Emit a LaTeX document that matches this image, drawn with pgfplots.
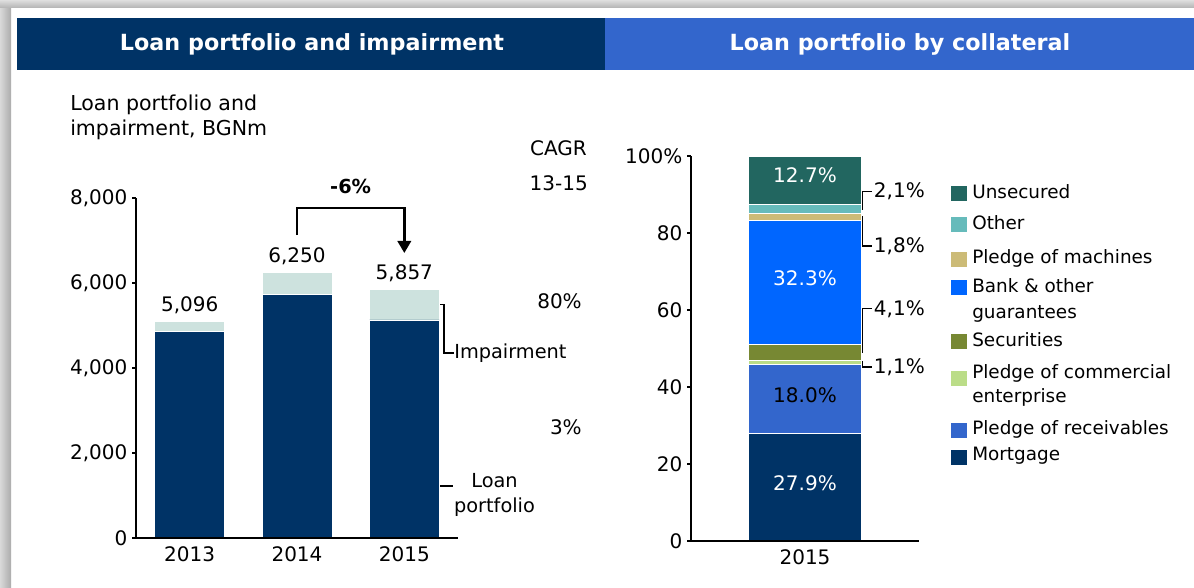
\documentclass[border=0pt]{standalone}
\usepackage{pgfplots}
\pgfplotsset{compat=1.18}
\usepackage{fontspec}
\setmainfont{DejaVu Sans}
\usetikzlibrary{arrows.meta}
\definecolor{navy}{RGB}{0,51,102}
\definecolor{hblue}{RGB}{51,102,204}
\definecolor{impair}{RGB}{205,226,222}
\definecolor{cunsec}{RGB}{34,102,96}
\definecolor{cother}{RGB}{102,187,187}
\definecolor{cmach}{RGB}{204,187,119}
\definecolor{cbank}{RGB}{0,102,255}
\definecolor{csec}{RGB}{119,136,51}
\definecolor{ccomm}{RGB}{187,221,136}
\definecolor{crec}{RGB}{51,102,204}
\definecolor{cmort}{RGB}{0,51,102}
\newcommand{\fs}{\fontsize{15}{18}\selectfont}
\newcommand{\fa}{\fontsize{14.5}{18}\selectfont}
\begin{document}
\begin{tikzpicture}[x=0.75pt,y=0.75pt]
\path[use as bounding box] (0,0) rectangle (1194,588);
\fill[white] (0,0) rectangle (1194,588);
\shade[left color=gray!30, right color=gray!65] (0,0) rectangle (11,588);
\shade[top color=gray!25, bottom color=gray!60] (0,580) rectangle (1194,588);
\fill[navy] (17,518) rectangle (605,570);
\fill[hblue] (605,518) rectangle (1194,570);
\node[white,font=\bfseries\fontsize{16.7}{20}\selectfont] at (312,544) {Loan portfolio and impairment};
\node[white,font=\bfseries\fontsize{16.7}{20}\selectfont] at (900,544) {Loan portfolio by collateral};
\node[anchor=north west, align=left, inner sep=0pt, font=\fontsize{15.4}{18.75}\selectfont] at (70,493) {Loan portfolio and\\impairment, BGNm};
\node[anchor=east, inner sep=0pt, font=\fs] at (587,440) {CAGR};
\node[anchor=east, inner sep=0pt, font=\fs] at (588,405) {13-15};
\node[anchor=east, inner sep=0pt, font=\fs] at (582,287) {80\%};
\node[anchor=east, inner sep=0pt, font=\fs] at (582,161) {3\%};

\begin{axis}[
  axis on top,
  at={(102pt,37.5pt)}, anchor=south west, scale only axis,
  width=241.5pt, height=255pt,
  ybar stacked, bar width=52.5pt,
  xmin=-0.5, xmax=2.5, ymin=0, ymax=8000,
  axis x line*=bottom, axis y line*=left,
  axis line style={line width=1.5pt, black},
  xtick={0,1,2}, xticklabels={2013,2014,2015},
  x tick style={draw=none},
  ytick={0,2000,4000,6000,8000},
  y tick style={line width=1.2pt, black},
  tick align=outside, major tick length=3pt,
  scaled y ticks=false,
  yticklabel style={/pgf/number format/.cd,1000 sep={,},assume math mode=true},
  xticklabel style={/pgf/number format/assume math mode=true},
  tick label style={font=\fs},
  clip=false,
]
\addplot[fill=navy, draw=white, line width=0.5pt] coordinates {(0,4860) (1,5730) (2,5130)};
\addplot[fill=impair, draw=white, line width=0.5pt] coordinates {(0,236) (1,520) (2,727)};
\node[anchor=base, font=\fs] at (axis cs:0,5096) [yshift=7.5pt] {5,096};
\node[anchor=base, font=\fs] at (axis cs:1,6250) [yshift=7.5pt] {6,250};
\node[anchor=base, font=\fs] at (axis cs:2,5857) [yshift=7.5pt] {5,857};
\draw[line width=1.9pt, -{Triangle[length=9pt,width=10pt]}] (axis cs:1,7129) -- (axis cs:1,7765) -- (axis cs:2,7765) -- (axis cs:2,6706);
\node[font=\bfseries\fontsize{14.5}{17}\selectfont] at (axis cs:1.5,8282) {-6\%};
\draw[line width=0.9pt] (axis cs:2.29,5493) -- (axis cs:2.37,5493) -- (axis cs:2.37,4353) -- (axis cs:2.46,4353) node[anchor=west, inner sep=0pt, font=\fa] {Impairment};
\draw[line width=0.9pt] (axis cs:2.24,1224) -- (axis cs:2.45,1224);
\node[align=center, font=\fontsize{14.5}{18.75}\selectfont] at (axis cs:2.84,1012) {Loan\\portfolio};
\end{axis}

\begin{axis}[
  axis on top,
  at={(518.25pt,35.25pt)}, anchor=south west, scale only axis,
  width=171pt, height=288.75pt,
  ybar stacked, bar width=84.75pt,
  xmin=-1, xmax=1, ymin=0, ymax=100,
  axis x line*=bottom, axis y line*=left,
  axis line style={line width=1.5pt, black},
  xtick={0}, xticklabels={2015},
  x tick style={draw=none},
  ytick={0,20,40,60,80,100},
  yticklabels={0,20,40,60,80,100\%},
  y tick style={line width=1.2pt, black},
  tick align=outside, major tick length=3pt,
  tick label style={font=\fs},
  clip=false,
]
\addplot[fill=cmort, draw=white, line width=0.6pt] coordinates {(0,27.9)};
\addplot[fill=crec, draw=white, line width=0.6pt] coordinates {(0,18.0)};
\addplot[fill=ccomm, draw=white, line width=0.6pt] coordinates {(0,1.1)};
\addplot[fill=csec, draw=white, line width=0.6pt] coordinates {(0,4.1)};
\addplot[fill=cbank, draw=white, line width=0.6pt] coordinates {(0,32.3)};
\addplot[fill=cmach, draw=white, line width=0.6pt] coordinates {(0,1.8)};
\addplot[fill=cother, draw=white, line width=0.6pt] coordinates {(0,2.1)};
\addplot[fill=cunsec, draw=white, line width=0.6pt] coordinates {(0,12.7)};
\coordinate (s1) at (axis cs:0,94.9);
\coordinate (s2) at (axis cs:0,68.3);
\coordinate (s3) at (axis cs:0,37.8);
\coordinate (s4) at (axis cs:0,15.0);
\draw[line width=0.9pt] (axis cs:0.456,86.25) -- (axis cs:0.5,86.25) -- (axis cs:0.5,90.8) -- (axis cs:0.588,90.8) node[anchor=west, inner sep=1pt, font=\fs] {2,1\%};
\draw[line width=0.9pt] (axis cs:0.456,84.3) -- (axis cs:0.5,84.3) -- (axis cs:0.5,76.6) -- (axis cs:0.588,76.6) node[anchor=west, inner sep=1pt, font=\fs] {1,8\%};
\draw[line width=0.9pt] (axis cs:0.456,49.05) -- (axis cs:0.5,49.05) -- (axis cs:0.5,60.3) -- (axis cs:0.588,60.3) node[anchor=west, inner sep=1pt, font=\fs] {4,1\%};
\draw[line width=0.9pt] (axis cs:0.456,46.6) -- (axis cs:0.5,46.6) -- (axis cs:0.5,45.2) -- (axis cs:0.588,45.2) node[anchor=west, inner sep=1pt, font=\fs] {1,1\%};
\end{axis}
\node[white, font=\fs] at (s1) {12.7\%};
\node[white, font=\fs] at (s2) {32.3\%};
\node[black, font=\fs] at (s3) {18.0\%};
\node[white, font=\fs] at (s4) {27.9\%};

% legend
\begin{scope}[every node/.style={anchor=west, inner sep=0pt, font=\fontsize{13.8}{19.5}\selectfont, align=left}]
\fill[cunsec] (951,387) rectangle (967,402); \node at (972,396) {Unsecured};
\fill[cother] (951,356) rectangle (967,371); \node at (972,365) {Other};
\fill[cmach] (951,321) rectangle (967,336); \node at (972,330) {Pledge of machines};
\fill[cbank] (951,293) rectangle (967,308); \node at (972,288) {Bank \& other\\guarantees};
\fill[csec] (951,239) rectangle (967,254); \node at (972,248) {Securities};
\node[font=\fontsize{13.8}{18}\selectfont] at (972,203) {Pledge of commercial\\enterprise};
\fill[ccomm] (951,202) rectangle (967,217);
\fill[crec] (951,150) rectangle (967,165); \node at (972,159) {Pledge of receivables};
\fill[cmort] (951,123) rectangle (967,138); \node at (972,132) {Mortgage};
\end{scope}
\end{tikzpicture}
\end{document}
